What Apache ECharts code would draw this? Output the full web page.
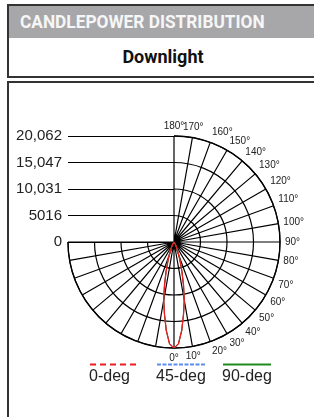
<!DOCTYPE html>
<html>
<head>
<meta charset="utf-8">
<script src="https://cdn.jsdelivr.net/npm/echarts@6/dist/echarts.min.js"></script>
<style>
html, body { margin: 0; padding: 0; background: #fff; width: 314px; height: 417px; overflow: hidden; }
.bar {
    position: absolute; left: 7px; top: 4px; width: 310px; height: 34px; box-sizing: border-box;
    background: #a7a7aa; border-left: 2px solid #333; border-top: 2px solid #333;
    color: #f6f6f6; font: 700 18px Roboto, sans-serif; line-height: 32px; padding-left: 11px;
    white-space: nowrap;
}
.bar span { display: inline-block; transform: scaleX(0.96); transform-origin: left center; }
.sub {
    position: absolute; left: 7px; top: 38px; width: 310px; height: 40px; box-sizing: border-box;
    border-left: 2px solid #333; border-bottom: 2px solid #333;
    color: #111; font: 700 18px Roboto, sans-serif; line-height: 38px; text-align: center;
}
.box {
    position: absolute; left: 7px; top: 81px; width: 400px; height: 400px; box-sizing: border-box;
    border-left: 2px solid #333; border-top: 2px solid #333;
}
#chart { position: absolute; left: 0; top: 0; width: 314px; height: 417px; z-index: 2; }
</style>
</head>
<body>
<div class="bar"><span>CANDLEPOWER DISTRIBUTION</span></div>
<div class="sub">Downlight</div>
<div class="box"></div>
<div id="chart"></div>
<script>
// candela readings per vertical angle, symmetric on both sides
const angles = [0, 2.5, 5, 7.5, 10, 12.5, 15, 17.5, 20, 25, 30, 35, 40, 45, 50, 60, 70, 80, 90]
const cd0 = [20062, 19300, 16800, 13800, 11200, 8300, 5800, 3900, 2600, 1200, 500, 180, 60, 0, 0, 0, 0, 0, 0]
const cd45 = [20062, 19300, 16800, 13800, 11200, 8300, 5800, 3900, 2600, 1200, 500, 180, 60, 0, 0, 0, 0, 0, 0]
const cd90 = [20062, 19300, 16800, 13800, 11200, 8300, 5800, 3900, 2600, 1200, 500, 180, 60, 0, 0, 0, 0, 0, 0]

const planeNames = ['0-deg', '45-deg', '90-deg']
const candelaMax = 20062
const candelaTicks = ['0', '5016', '10,031', '15,047', '20,062']

const LABEL_FONT = '"Liberation Sans", Arial, sans-serif'
const planeStyles = [
    { color: '#ee1c1c', dash: [6, 4] },
    { color: '#5b8cf0', dash: [4, 1.5] },
    { color: '#1f8a1f', dash: null }
]

function planeData(values) {
    const right = angles.map((a, i) => [values[i], a])
    const left = angles.slice(1).map((a, i) => [values[i + 1], -a]).reverse()
    return left.concat(right)
}

const chart = echarts.init(document.getElementById('chart'), null, { renderer: 'canvas' })

const cx = 174
const cy = 242
const R = 106
const step = candelaMax / 4
const gridLine = { color: '#000', width: 1.2 }

// legend drawn as line above text
const legendX = [90, 157, 223]
const legendGraphics = []
planeNames.forEach((name, i) => {
    legendGraphics.push({
        type: 'line',
        shape: { x1: legendX[i], y1: 364.5, x2: legendX[i] + 48, y2: 364.5 },
        style: { stroke: planeStyles[i].color, lineWidth: 2, lineDash: planeStyles[i].dash }
    })
    legendGraphics.push({
        type: 'text',
        x: legendX[i] - 1,
        y: 377,
        style: { text: name, fill: '#222', font: '16px ' + LABEL_FONT, verticalAlign: 'middle' }
    })
})

const option = {
    animation: false,
    polar: { center: [cx, cy], radius: R },
    angleAxis: {
        type: 'value',
        min: -90,
        max: 180,
        interval: 10,
        startAngle: 180,
        endAngle: 450,
        clockwise: false,
        axisLine: { show: true, lineStyle: { color: '#000', width: 1.3 } },
        axisTick: { show: false },
        splitLine: { show: true, lineStyle: gridLine },
        axisLabel: {
            margin: 5,
            color: '#222',
            fontSize: 10,
            fontFamily: LABEL_FONT,
            formatter: v => (v >= 0 ? v + '°' : '')
        }
    },
    radiusAxis: {
        type: 'value',
        min: 0,
        max: candelaMax,
        interval: step,
        axisLine: { show: false },
        axisTick: { show: false },
        axisLabel: { show: false },
        splitLine: { show: true, lineStyle: gridLine }
    },
    // upper-left scale with the candela values
    grid: { left: cx - R, top: cy - R, width: R, height: R },
    xAxis: { type: 'value', show: false, min: 0, max: 1 },
    yAxis: {
        type: 'value',
        min: 0,
        max: candelaMax,
        interval: step,
        axisLine: { show: false },
        axisTick: { show: false },
        splitLine: { show: true, lineStyle: { color: '#000', width: 1 } },
        axisLabel: {
            margin: 6,
            color: '#222',
            fontSize: 15,
            fontFamily: LABEL_FONT,
            formatter: (v, idx) => candelaTicks[idx]
        }
    },
    series: [
        {
            name: planeNames[1], type: 'line', coordinateSystem: 'polar', data: planeData(cd45),
            symbol: 'none', lineStyle: { color: planeStyles[1].color, width: 1 }
        },
        {
            name: planeNames[2], type: 'line', coordinateSystem: 'polar', data: planeData(cd90),
            symbol: 'none', lineStyle: { color: planeStyles[2].color, width: 1 }
        },
        {
            name: planeNames[0], type: 'line', coordinateSystem: 'polar', data: planeData(cd0),
            symbol: 'none', lineStyle: { color: planeStyles[0].color, width: 1.3 }
        }
    ],
    graphic: legendGraphics
}

chart.setOption(option)
</script>
</body>
</html>
